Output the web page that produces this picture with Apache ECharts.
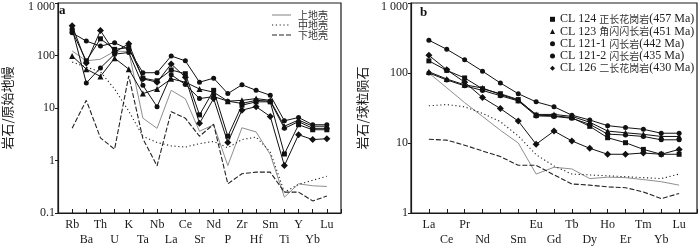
<!DOCTYPE html>
<html><head><meta charset="utf-8">
<script src="https://cdn.jsdelivr.net/npm/echarts@6/dist/echarts.min.js"></script>
<style>html,body{margin:0;padding:0;background:#fff}#c{width:700px;height:248px}</style>
</head><body><div id="c"></div>
<script>
// ---------- Panel a: primitive-mantle normalized spider diagram ----------
const aCats = ['Rb','Ba','Th','U','K','Ta','Nb','La','Ce','Sr','Nd','P','Zr','Hf','Sm','Ti','Y','Yb','Lu'];
const aCL124  = [290, 79, 208, 131, 141, 37, 33, 53, 45, 7.4, 21.7, 2.9, 11.3, 13.1, 13.1, 1.33, 4.8, 3.85, 3.85];
const aCL123  = [98, 55, 40, 89, 55, 18.8, 23, 36, 31, 23, 20, 13.5, 14, 15.1, 14, 4.5, 5.9, 4.5, 4.5];
const aCL1211 = [325, 30, 58, 106, 114, 27, 10.6, 43, 28, 15.1, 16.5, 13.5, 12.2, 14, 13.5, 4.1, 5.5, 4.1, 4.1];
const aCL1212 = [270, 188, 151, 175, 131, 47, 47, 98, 79, 31, 37, 18.8, 27.7, 21.7, 17.5, 5.7, 6.6, 4.8, 4.8];
const aCL126  = [370, 72, 298, 115, 168, 36, 31, 69, 38.6, 5.1, 15.1, 2.2, 9.1, 10.6, 6.9, 0.8, 3.1, 2.5, 2.6];
const aUpper  = [122, 79, 85, 120, 120, 6.4, 4.1, 21.7, 15, 3.6, 4.8, 0.8, 4.2, 3.5, 1.3, 0.2, 0.36, 0.33, 0.32];
const aMiddle = [75, 60, 49, 23, 8.7, 2.9, 2.2, 1.9, 1.8, 2.1, 2.3, 1.75, 2.5, 2.8, 1.46, 0.25, 0.35, 0.42, 0.5];
const aLower  = [4.1, 14, 2.7, 1.64, 41, 2.6, 0.79, 8.5, 6.4, 2.9, 4.9, 0.36, 0.56, 0.6, 0.6, 0.25, 0.25, 0.17, 0.21];

// ---------- Panel b: chondrite normalized REE ----------
const bCats = ['La','Ce','Pr','Nd','Pm','Sm','Eu','Gd','Tb','Dy','Ho','Er','Tm','Yb','Lu'];
const bCL124  = [149, 109, 85, 59.5, 50.6, 41.7, 25, 24.5, 23, 17.3, 11.9, 10.1, 8.1, 6.9, 6.9];
const bCL123  = [104, 82, 67.8, 61, 49.4, 40.7, 25.6, 25.6, 24, 19.8, 14.8, 14, 13.3, 12.4, 12.4];
const bCL1211 = [100, 79.6, 65.6, 56.4, 47.4, 39.9, 24.4, 24, 22.5, 18.5, 13.4, 13, 12.4, 11.1, 11.1];
const bCL1212 = [294, 218, 154, 106, 72, 50.6, 38.7, 32.9, 25, 21.3, 17.7, 16.6, 15.7, 13.8, 13.8];
const bCL126  = [179, 111, 74, 44.5, 31, 20.6, 9.6, 14.8, 10.7, 8.4, 6.9, 6.9, 7.2, 6.9, 8.1];
const bUpper  = [100, 61.5, 37.7, 24, 15.2, 10, 3.6, 4.5, 4.26, 3.1, 3.25, 3.2, 3.0, 2.8, 2.5];
const bMiddle = [34, 35.4, 32.9, 26.5, 20.2, 12.6, 6.8, 4.7, 3.6, 3.5, 3.4, 3.3, 3.2, 3.1, 3.6];
const bLower  = [11.3, 11.0, 9.3, 7.7, 6.4, 4.8, 4.8, 3.5, 2.6, 2.5, 2.36, 2.3, 2.0, 1.6, 1.9];

const aYTicks = ['0.1','1','10','100','1 000'];
const sampleCodes = ['CL 124 ','CL 123 ','CL 121-1 ','CL 121-2 ','CL 126 '];
const sampleRocks = ['正长花岗岩','角闪闪长岩','闪长岩','闪长岩','二长花岗岩'];
const sampleAges  = ['(457 Ma)','(451 Ma)','(442 Ma)','(435 Ma)','(430 Ma)'];
const sampleNames = sampleCodes.map((c, k) => c + sampleRocks[k] + sampleAges[k]);
const sampleSymbols = ['rect','triangle','circle','circle','diamond'];
const crustNames = ['上地壳','中地壳','下地壳'];

const SERIF = '"Liberation Serif","Noto Sans CJK SC",serif';
const CJK = '"Noto Sans CJK SC",sans-serif';
const INK = '#1a1a1a';
const pad = arr => [null, ...arr, null];

function xAxisFor(gi, cats) {
  const full = [' ', ...cats, '  '];
  return {
    type: 'category', gridIndex: gi, data: full, boundaryGap: false,
    axisLine: {lineStyle: {color: INK, width: 1.2}},
    axisTick: {inside: true, length: 4, interval: 0, lineStyle: {color: INK}},
    axisLabel: {
      interval: 0, margin: 4, color: INK, fontFamily: SERIF, fontSize: 12, lineHeight: 15.5,
      formatter: (v, i) => {
        if (i === 0 || i === full.length - 1 || v === 'Pm') return '';
        return (i % 2 === 0) ? '\n' + v : v;
      }
    },
    splitLine: {show: false}
  };
}
function yAxisFor(gi, min, name, gap) {
  return {
    type: 'log', logBase: 10, gridIndex: gi, min: min, max: 1000,
    name: name, nameLocation: 'middle', nameGap: gap, nameRotate: 90,
    nameTextStyle: {fontFamily: CJK, fontSize: 13, color: INK},
    axisLine: {show: true, lineStyle: {color: INK, width: 1.2}},
    axisTick: {show: true, inside: false, length: 3, lineStyle: {color: INK}},
    minorTick: {show: false}, splitLine: {show: false},
    axisLabel: {
      margin: 3, color: INK, fontFamily: SERIF, fontSize: 12,
      formatter: v => {
        const e = Math.round(Math.log10(v));
        const s = aYTicks[e + 1];
        return e === 3 ? '{t|' + s + '}' : s;
      },
      rich: {t: {padding: [8, 0, 0, 0], fontFamily: SERIF, fontSize: 12, color: INK}}
    }
  };
}

const series = [];
const aSamples = [aCL124, aCL123, aCL1211, aCL1212, aCL126];
const bSamples = [bCL124, bCL123, bCL1211, bCL1212, bCL126];
const crustStyles = [
  {color: '#8f8f8f', type: 'solid', width: 1},
  {color: '#222', type: [1.2, 2.6], width: 1.1},
  {color: '#222', type: [5, 2], width: 1.1}
];
[[aUpper, aMiddle, aLower], [bUpper, bMiddle, bLower]].forEach((set, gi) => {
  set.forEach((d, k) => series.push({
    name: crustNames[k], type: 'line', xAxisIndex: gi, yAxisIndex: gi,
    data: pad(d), symbol: 'none', lineStyle: crustStyles[k], itemStyle: {color: crustStyles[k].color},
    silent: true, animation: false, z: 2
  }));
});
[aSamples, bSamples].forEach((set, gi) => {
  set.forEach((d, k) => series.push({
    name: sampleNames[k], type: 'line', xAxisIndex: gi, yAxisIndex: gi,
    data: pad(d), symbol: sampleSymbols[k],
    symbolSize: sampleSymbols[k] === 'diamond' ? 7 : (sampleSymbols[k] === 'triangle' ? 6 : 5),
    lineStyle: {color: '#111', width: 1}, itemStyle: {color: '#111'},
    silent: true, animation: false, z: 3
  }));
});

// legend of panel a drawn as line samples + text
const legendA = [];
crustNames.forEach((n, k) => {
  const y = 15 + k * 10;
  legendA.push({type: 'line', shape: {x1: 272, y1: y, x2: 291, y2: y},
    style: {stroke: crustStyles[k].color, lineWidth: 1.1, lineDash: k === 0 ? null : crustStyles[k].type}});
  legendA.push({type: 'text', x: 298, y: y, style: {text: n, font: '10px ' + CJK, fill: '#333', textVerticalAlign: 'middle', textAlign: 'left'}});
});

const option = {
  backgroundColor: '#fff',
  animation: false,
  grid: [
    {left: 52, top: 3, width: 289, height: 213, show: true, borderColor: INK, borderWidth: 1.2},
    {left: 411, top: 3, width: 288, height: 213, show: true, borderColor: INK, borderWidth: 1.2}
  ],
  xAxis: [xAxisFor(0, aCats), xAxisFor(1, bCats)],
  yAxis: [yAxisFor(0, 0.1, '岩石/原始地幔', 44), yAxisFor(1, 1, '岩石/球粒陨石', 42)],
  legend: [{
    data: sampleNames.map((n, k) => ({name: n, icon: sampleSymbols[k]})),
    left: 545, top: 8.3, orient: 'vertical', itemGap: 0.25,
    itemWidth: 5, itemHeight: 5, selectedMode: false,
    formatter: n => {
      const k = sampleNames.indexOf(n);
      return '{l|' + sampleCodes[k] + '}{c|' + sampleRocks[k] + '}{l|' + sampleAges[k] + '}';
    },
    textStyle: {
      rich: {
        l: {fontFamily: '"Liberation Serif",serif', fontSize: 12, color: '#222', lineHeight: 10},
        c: {fontFamily: CJK, fontSize: 10, color: '#333', lineHeight: 10}
      }
    }
  }],
  graphic: [
    {type: 'text', left: 59, top: 4, style: {text: 'a', font: 'bold 13px "Liberation Serif"', fill: '#111'}},
    {type: 'text', left: 420, top: 6, style: {text: 'b', font: 'bold 13px "Liberation Serif"', fill: '#111'}},
    ...legendA
  ],
  series: series
};
const chart = echarts.init(document.getElementById('c'), null, {renderer: 'canvas'});
chart.setOption(option);
</script></body></html>
